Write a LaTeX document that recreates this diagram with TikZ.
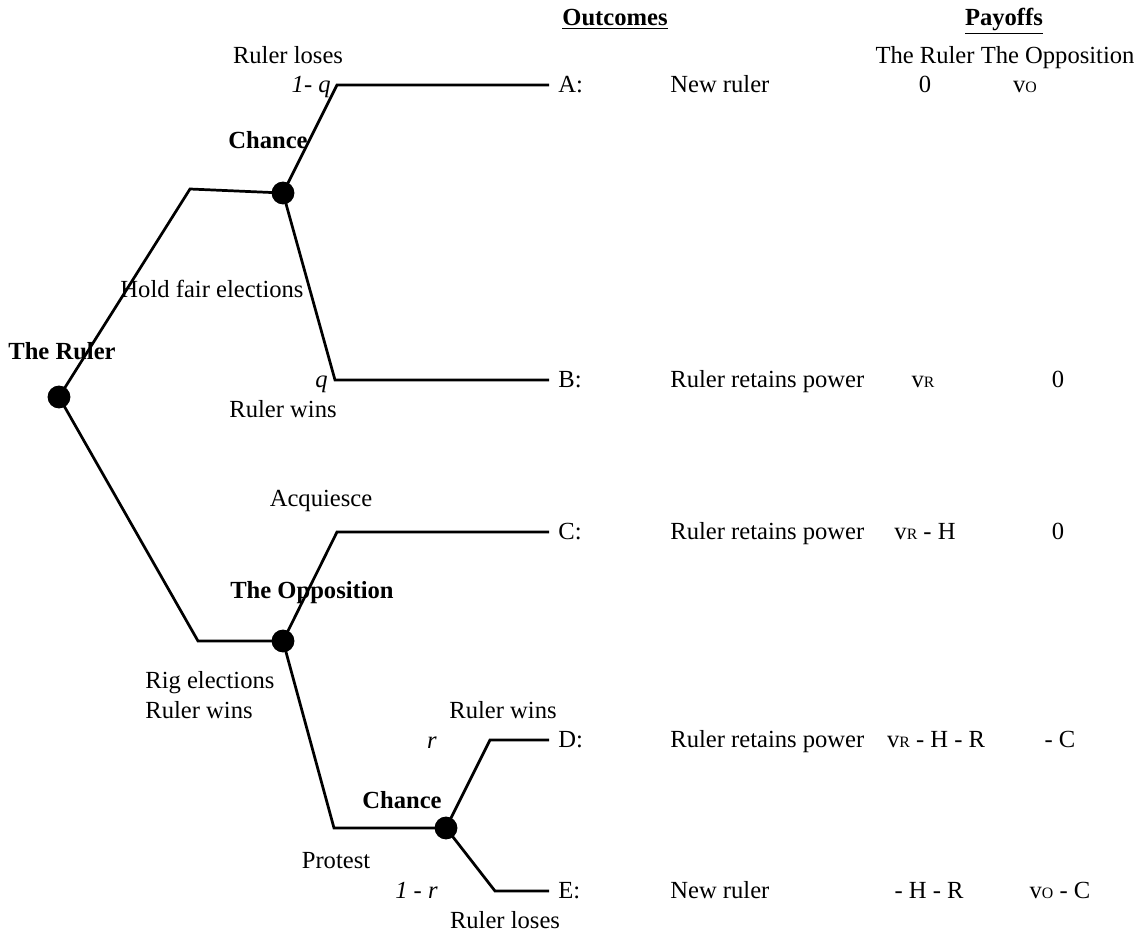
\documentclass[tikz,border=0pt]{standalone}
\usepackage{fontspec}
\setmainfont{Liberation Serif}
\begin{document}
\begin{tikzpicture}[x=0.02cm,y=-0.02cm,
  txt/.style={inner sep=0pt,anchor=mid,yshift=-0.07cm,font=\fontsize{14}{16}\selectfont},
  bold/.style={txt,font=\fontsize{14}{16}\selectfont\bfseries},
  ital/.style={txt,font=\fontsize{14}{16}\selectfont\itshape},
  dot/.style={circle,fill=black,inner sep=0pt,minimum size=13},
  branch/.style={line width=1.55pt,line join=miter}]
\useasboundingbox (0,0) rectangle (1144,933);
\newcommand{\sm}[1]{{\fontsize{9}{10}\selectfont #1}}
% decision nodes
\node[dot] (root) at (59,397) {};
\node[dot] (ch1) at (283,193) {};
\node[dot] (opp) at (283,641) {};
\node[dot] (ch2) at (446,828) {};
% corners
\coordinate (k1) at (190,189);
\coordinate (k2) at (198,641);
\coordinate (aS) at (337,85);  \coordinate (aE) at (549,85);
\coordinate (bS) at (335,380); \coordinate (bE) at (549,380);
\coordinate (cS) at (337,532); \coordinate (cE) at (549,532);
\coordinate (pK) at (334,828);
\coordinate (dS) at (490,740); \coordinate (dE) at (549,740);
\coordinate (eS) at (495,891); \coordinate (eE) at (549,891);
% branches
\draw[branch] (root.center) -- (k1) -- (ch1.center);
\draw[branch] (root.center) -- (k2) -- (opp.center);
\draw[branch] (ch1.center) -- (aS) -- (aE);
\draw[branch] (ch1.center) -- (bS) -- (bE);
\draw[branch] (opp.center) -- (cS) -- (cE);
\draw[branch] (opp.center) -- (pK) -- (ch2.center);
\draw[branch] (ch2.center) -- (dS) -- (dE);
\draw[branch] (ch2.center) -- (eS) -- (eE);
% tree labels
\node[txt] (lRL1) at (288,56) {Ruler loses};
\node[ital,anchor=mid east] (l1q) at (331,85) {1- q};
\node[bold] (lCh1) at (268,141) {Chance};
\node[txt] (lHold) at (212,290) {Hold fair elections};
\node[bold] (lRuler) at (62,352) {The Ruler};
\node[ital,anchor=mid east] (lq) at (328,380) {q};
\node[txt] (lRW1) at (283,410) {Ruler wins};
\node[txt] (lAcq) at (321,499) {Acquiesce};
\node[bold] (lOpp) at (312,591) {The Opposition};
\node[txt,anchor=mid west] (lRig) at (145,681) {Rig elections};
\node[txt,anchor=mid west] (lRW2) at (145,711) {Ruler wins};
\node[txt] (lRW3) at (503,711) {Ruler wins};
\node[ital,anchor=mid east] (lr) at (437,741) {r};
\node[bold] (lCh2) at (402,801) {Chance};
\node[txt] (lProt) at (336,861) {Protest};
\node[ital,anchor=mid east] (l1r) at (438,891) {1 - r};
\node[txt] (lRL2) at (505,921) {Ruler loses};
% outcome letters
\node[txt,anchor=mid west] (oA) at (558,85) {A:};
\node[txt,anchor=mid west] (oB) at (558,380) {B:};
\node[txt,anchor=mid west] (oC) at (558,532) {C:};
\node[txt,anchor=mid west] (oD) at (558,740) {D:};
\node[txt,anchor=mid west] (oE) at (558,891) {E:};
% headers
\node[bold] (hOut) at (615,18) {\underline{Outcomes}};
\node[bold] (hPay) at (1004,18) {\underline{Payoffs}};
\node[txt] (hCols) at (1005,56) {The Ruler The Opposition};
% outcomes
\node[txt,anchor=mid west] (tA) at (670,85) {New ruler};
\node[txt,anchor=mid west] (tB) at (670,380) {Ruler retains power};
\node[txt,anchor=mid west] (tC) at (670,532) {Ruler retains power};
\node[txt,anchor=mid west] (tD) at (670,740) {Ruler retains power};
\node[txt,anchor=mid west] (tE) at (670,891) {New ruler};
% payoffs
\node[txt] (pA1) at (925,85) {0};
\node[txt] (pA2) at (1025,85) {v\sm{O}};
\node[txt] (pB1) at (923,380) {v\sm{R}};
\node[txt] (pB2) at (1058,380) {0};
\node[txt] (pC1) at (925,532) {v\sm{R} - H};
\node[txt] (pC2) at (1058,532) {0};
\node[txt] (pD1) at (936,740) {v\sm{R} - H - R};
\node[txt] (pD2) at (1060,740) {- C};
\node[txt] (pE1) at (929,891) {- H - R};
\node[txt] (pE2) at (1060,891) {v\sm{O} - C};
\end{tikzpicture}
\end{document}
